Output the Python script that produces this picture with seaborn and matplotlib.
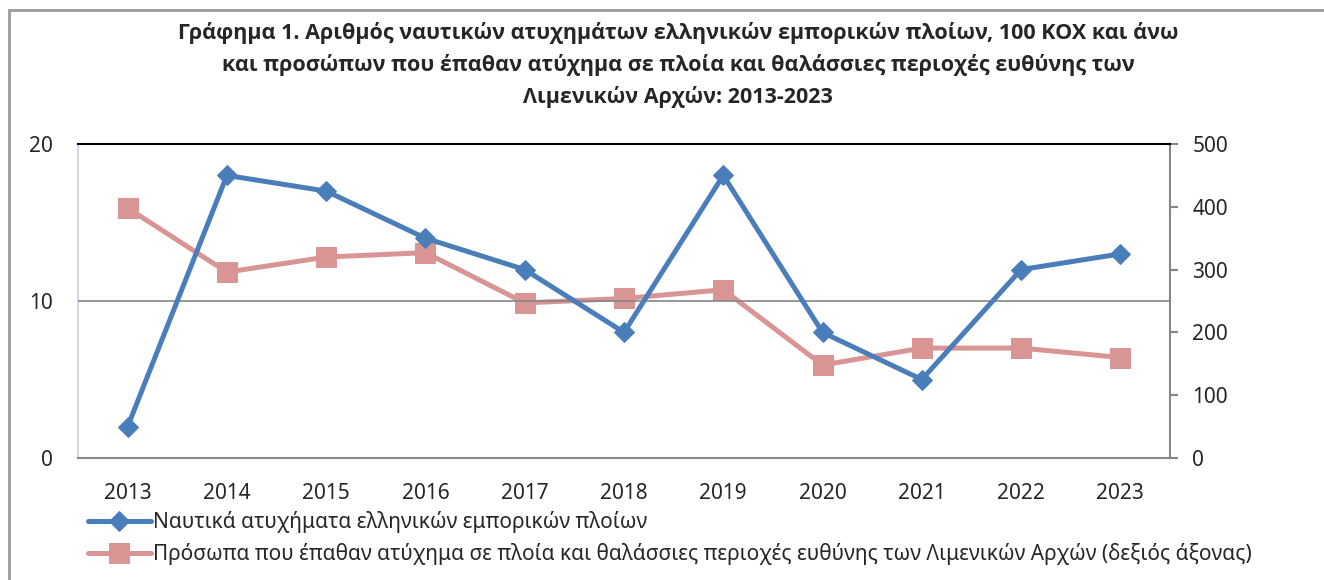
import numpy as np
import matplotlib
matplotlib.use("Agg")
import matplotlib.pyplot as plt
from matplotlib.patches import Rectangle
import pandas as pd
import seaborn as sns

years = ["2013", "2014", "2015", "2016", "2017", "2018",
         "2019", "2020", "2021", "2022", "2023"]
accidents = [2, 18, 17, 14, 12, 8, 18, 8, 5, 12, 13]
persons = [398, 296, 320, 327, 247, 254, 268, 148, 175, 175, 160]

label_acc = "Ναυτικά ατυχήματα ελληνικών εμπορικών πλοίων"
label_per = ("Πρόσωπα που έπαθαν ατύχημα σε πλοία και θαλάσσιες περιοχές "
             "ευθύνης των Λιμενικών Αρχών (δεξιός άξονας)")
title = ("Γράφημα 1. Αριθμός ναυτικών ατυχημάτων ελληνικών εμπορικών πλοίων, 100 ΚΟΧ και άνω\n"
         "και προσώπων που έπαθαν ατύχημα σε πλοία και θαλάσσιες περιοχές ευθύνης των\n"
         "Λιμενικών Αρχών: 2013-2023")

df = pd.DataFrame({"year": years, "accidents": accidents, "persons": persons})

sns.set_style("white")
plt.rcParams["font.family"] = ["Noto Sans", "DejaVu Sans"]

blue = "#4a7ebb"
pink = "#d99594"
gray = "#868686"

fig = plt.figure(figsize=(13.24, 5.8), dpi=100)
ax = fig.add_axes([78 / 1324, 1 - 458 / 580, (1170 - 78) / 1324, (458 - 144) / 580])
ax2 = ax.twinx()

sns.lineplot(data=df, x="year", y="accidents", ax=ax, color=blue, lw=3.6,
             marker="D", markersize=10.5, markeredgecolor=blue, label=label_acc, zorder=3)
sns.lineplot(data=df, x="year", y="persons", ax=ax2, color=pink, lw=3.6,
             marker="s", markersize=14, markeredgecolor=pink, label=label_per, zorder=2)

ax.set_xlim(-0.5, 10.5)
ax.set_ylim(0, 20)
ax.set_yticks([0, 10, 20])
ax2.set_ylim(0, 500)
ax2.set_yticks(range(0, 501, 100))
ax.set_xlabel("")
ax.set_ylabel("")
ax2.set_ylabel("")

ax.grid(False)
ax2.grid(False)
ax.axhline(10, color=gray, lw=1.2, zorder=1)

for sp in ax.spines.values():
    sp.set_visible(False)
for sp in ax2.spines.values():
    sp.set_visible(False)
ax2.spines["top"].set_visible(True)
ax2.spines["top"].set_color("black")
ax2.spines["top"].set_linewidth(1.5)
ax2.spines["bottom"].set_visible(True)
ax2.spines["bottom"].set_color(gray)
ax2.spines["bottom"].set_linewidth(1.5)
ax2.spines["right"].set_visible(True)
ax2.spines["right"].set_color(gray)
ax2.spines["right"].set_linewidth(1.5)
ax2.spines["left"].set_visible(True)
ax2.spines["left"].set_color("#c8d3e0")
ax2.spines["left"].set_linewidth(1.2)

ax.tick_params(axis="y", length=0, pad=18, labelsize=15)
ax.tick_params(axis="x", length=0, pad=18, labelsize=15)
ax2.tick_params(axis="y", length=6, width=1.5, color=gray, direction="out",
                pad=10, labelsize=15)

ax.set_zorder(ax2.get_zorder() + 1)
ax.patch.set_visible(False)

h1, l1 = ax.get_legend_handles_labels()
h2, l2 = ax2.get_legend_handles_labels()
ax.get_legend().remove()
ax2.get_legend().remove()
fig.legend(h1 + h2, l1 + l2, loc="upper left", bbox_to_anchor=(88 / 1324, 1 - 511 / 580),
           frameon=False, fontsize=15, handlelength=3.0, handletextpad=0.1,
           borderpad=0, borderaxespad=0, labelspacing=0.5)

fig.text(678 / 1324, 1 - 22 / 580, title, ha="center", va="top", fontsize=15.5,
         fontweight="bold", linespacing=1.58, family=["Open Sans", "DejaVu Sans"])

fig.add_artist(Rectangle((9 / 1324, -0.1), 1.2, 1.1 - 10 / 580, transform=fig.transFigure,
                         fill=False, edgecolor="#9a9a9a", lw=2))

fig.savefig("out.png", dpi=100, facecolor="white")
